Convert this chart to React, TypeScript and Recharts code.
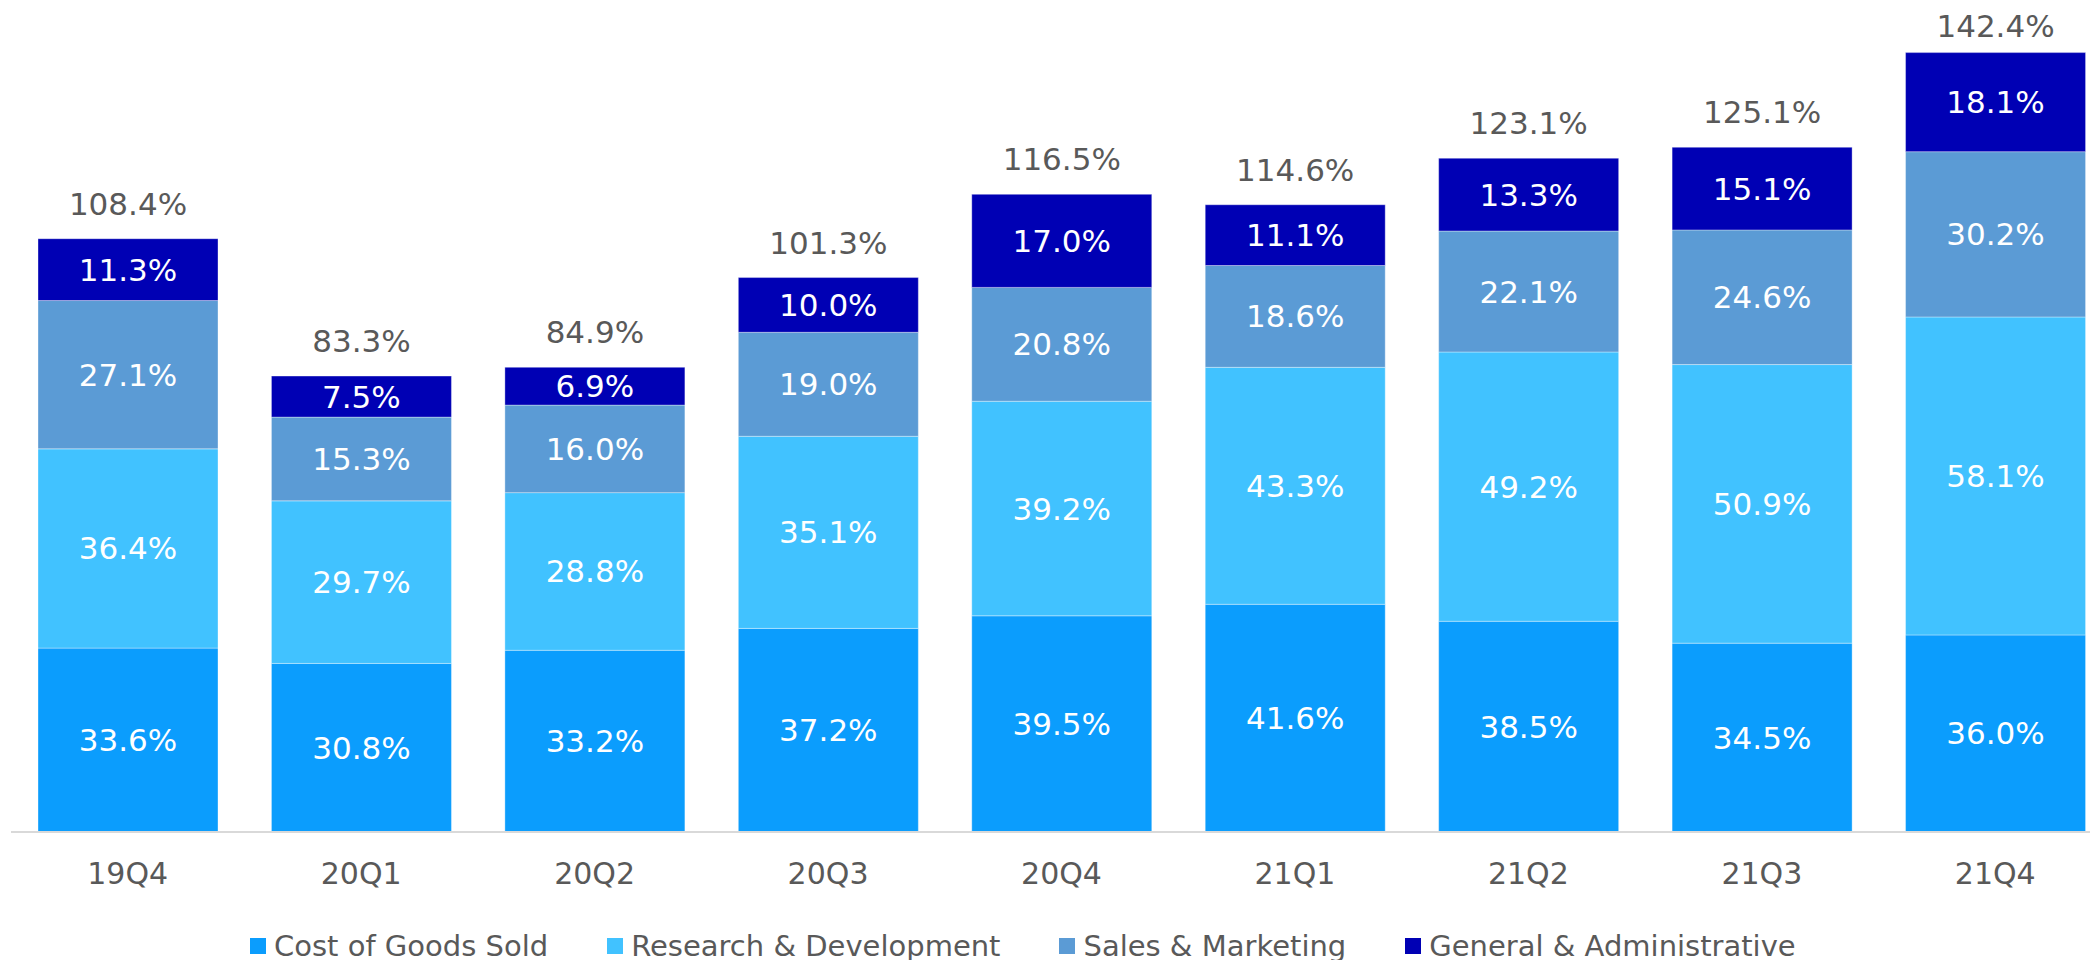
import { Bar, BarChart, LabelList, Legend, XAxis, YAxis } from "recharts";

const quarters = ["19Q4", "20Q1", "20Q2", "20Q3", "20Q4", "21Q1", "21Q2", "21Q3", "21Q4"];
const costOfGoods = [33.6, 30.8, 33.2, 37.2, 39.5, 41.6, 38.5, 34.5, 36.0];
const researchDev = [36.4, 29.7, 28.8, 35.1, 39.2, 43.3, 49.2, 50.9, 58.1];
const salesMarketing = [27.1, 15.3, 16.0, 19.0, 20.8, 18.6, 22.1, 24.6, 30.2];
const generalAdmin = [11.3, 7.5, 6.9, 10.0, 17.0, 11.1, 13.3, 15.1, 18.1];
const totals = [108.4, 83.3, 84.9, 101.3, 116.5, 114.6, 123.1, 125.1, 142.4];

const series = [
  { key: "cogs", name: "Cost of Goods Sold", color: "#0B9DFD" },
  { key: "rnd", name: "Research & Development", color: "#41C2FF" },
  { key: "snm", name: "Sales & Marketing", color: "#5B9BD5" },
  { key: "gna", name: "General & Administrative", color: "#0000B4" },
];

const data = quarters.map((q, i) => ({
  quarter: q,
  cogs: costOfGoods[i],
  rnd: researchDev[i],
  snm: salesMarketing[i],
  gna: generalAdmin[i],
  total: totals[i],
}));

const FONT = "'DejaVu Sans', Verdana, sans-serif";
const GREY = "#595959";

const fmt = (v: any) => `${Number(v).toFixed(1)}%`;

function QuarterTick(props: any) {
  const { x, y, payload } = props;
  return (
    <text x={x} y={y + 52} textAnchor="middle" fill={GREY} fontSize={30} fontFamily={FONT}>
      {payload.value}
    </text>
  );
}

function TotalLabel(props: any) {
  const { x, y, width, value } = props;
  // keep the tallest label inside the picture
  const ty = Math.max(Number(y) - 24, 37);
  return (
    <text x={Number(x) + Number(width) / 2} y={ty} textAnchor="middle" fill={GREY} fontSize={31} fontFamily={FONT}>
      {fmt(value)}
    </text>
  );
}

function LegendRow() {
  return (
    <div style={{ display: "flex", alignItems: "center", gap: 59, fontFamily: FONT, fontSize: 29, lineHeight: 1, color: GREY, whiteSpace: "nowrap", height: 0, overflow: "visible" }}>
      {series.map((s) => (
        <div key={s.key} style={{ display: "flex", alignItems: "center", gap: 8, height: 29 }}>
          <span style={{ width: 16, height: 16, background: s.color, display: "inline-block" }} />
          <span>{s.name}</span>
        </div>
      ))}
    </div>
  );
}

export default function App() {
  return (
    <div style={{ position: "absolute", left: 0, top: 0, width: 2090, height: 960, background: "#fff", overflow: "hidden" }}>
      <BarChart
        width={2090}
        height={960}
        data={data}
        margin={{ top: 11, right: -22, bottom: 68, left: 11 }}
        barSize={180}
      >
        <XAxis
          dataKey="quarter"
          height={60}
          tickLine={false}
          tickSize={0}
          tickMargin={0}
          axisLine={{ stroke: "#D9D9D9", strokeWidth: 2 }}
          tick={<QuarterTick />}
          interval={0}
        />
        <YAxis hide domain={[0, 150]} />
        <Legend
          verticalAlign="bottom"
          wrapperStyle={{ left: 250, top: 946, width: "auto", height: 0 }}
          content={() => <LegendRow />}
        />
        {series.map((s, idx) => (
          <Bar
            key={s.key}
            dataKey={s.key}
            name={s.name}
            stackId="a"
            fill={s.color}
            stroke="#ffffff"
            strokeOpacity={0.35}
            strokeWidth={1}
            isAnimationActive={false}
          >
            <LabelList dataKey={s.key} position="center" fill="#ffffff" fontSize={31} fontFamily={FONT} formatter={fmt} />
            {idx === series.length - 1 && <LabelList dataKey="total" content={<TotalLabel />} />}
          </Bar>
        ))}
      </BarChart>
    </div>
  );
}
